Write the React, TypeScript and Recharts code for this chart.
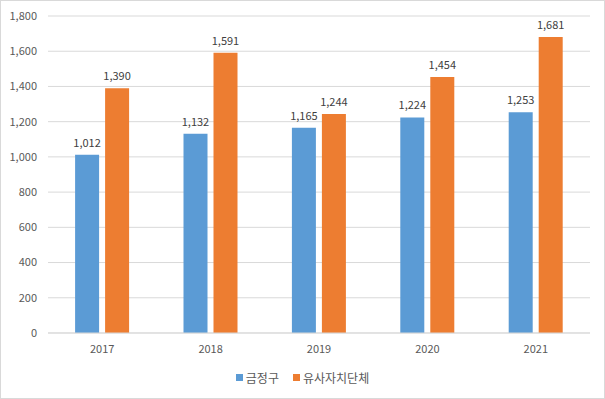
import React from 'react';
import { BarChart, Bar, XAxis, YAxis, CartesianGrid, Legend, LabelList } from 'recharts';

const years = ['2017', '2018', '2019', '2020', '2021'];
const geumjeong = [1012, 1132, 1165, 1224, 1253];
const similar = [1390, 1591, 1244, 1454, 1681];
const yTicks = [0, 200, 400, 600, 800, 1000, 1200, 1400, 1600, 1800];

const data = years.map((year, i) => ({ year, a: geumjeong[i], b: similar[i] }));

const FONT = '"Noto Sans CJK KR", "Noto Sans", sans-serif';

const LegendContent = () => (
  <div style={{ display: 'flex', justifyContent: 'center', fontFamily: FONT, fontSize: 12, color: '#595959' }}>
    {[
      { name: '금정구', color: '#5B9BD5' },
      { name: '유사자치단체', color: '#ED7D31' },
    ].map((item) => (
      <div key={item.name} style={{ display: 'flex', alignItems: 'center', margin: '0 7px' }}>
        <span style={{ width: 7, height: 7, background: item.color, display: 'inline-block', marginRight: 3 }} />
        <span>{item.name}</span>
      </div>
    ))}
  </div>
);

const fmt = (v: any) => Number(v).toLocaleString('en-US');

export default function App() {
  return (
    <div
      style={{
        position: 'absolute',
        left: 0,
        top: 0,
        width: 605,
        height: 399,
        border: '1px solid #d9d9d9',
        boxSizing: 'border-box',
        background: '#fff',
      }}
    >
      <BarChart
        width={603}
        height={397}
        data={data}
        margin={{ top: 15, right: 14, left: 0, bottom: 0 }}
        barCategoryGap="25%"
        barGap={6}
      >
        <CartesianGrid vertical={false} stroke="#d9d9d9" />
        <XAxis
          dataKey="year"
          height={48}
          tickLine={false}
          tickSize={0}
          tickMargin={12}
          axisLine={{ stroke: '#d9d9d9' }}
          tick={{ fontFamily: FONT, fontSize: 11, fill: '#595959' }}
        />
        <YAxis
          width={47}
          domain={[0, 1800]}
          ticks={yTicks}
          tickFormatter={fmt}
          axisLine={false}
          tickLine={false}
          tickSize={0}
          tickMargin={11}
          tick={{ fontFamily: FONT, fontSize: 11, fill: '#595959' }}
        />
        <Legend content={<LegendContent />} wrapperStyle={{ top: 368, left: 0, width: 603 }} />
        <Bar dataKey="a" name="금정구" fill="#5B9BD5" isAnimationActive={false}>
          <LabelList dataKey="a" position="top" offset={8} formatter={fmt} style={{ fontFamily: FONT, fontSize: 11, fill: '#404040' }} />
        </Bar>
        <Bar dataKey="b" name="유사자치단체" fill="#ED7D31" isAnimationActive={false}>
          <LabelList dataKey="b" position="top" offset={8} formatter={fmt} style={{ fontFamily: FONT, fontSize: 11, fill: '#404040' }} />
        </Bar>
      </BarChart>
    </div>
  );
}
